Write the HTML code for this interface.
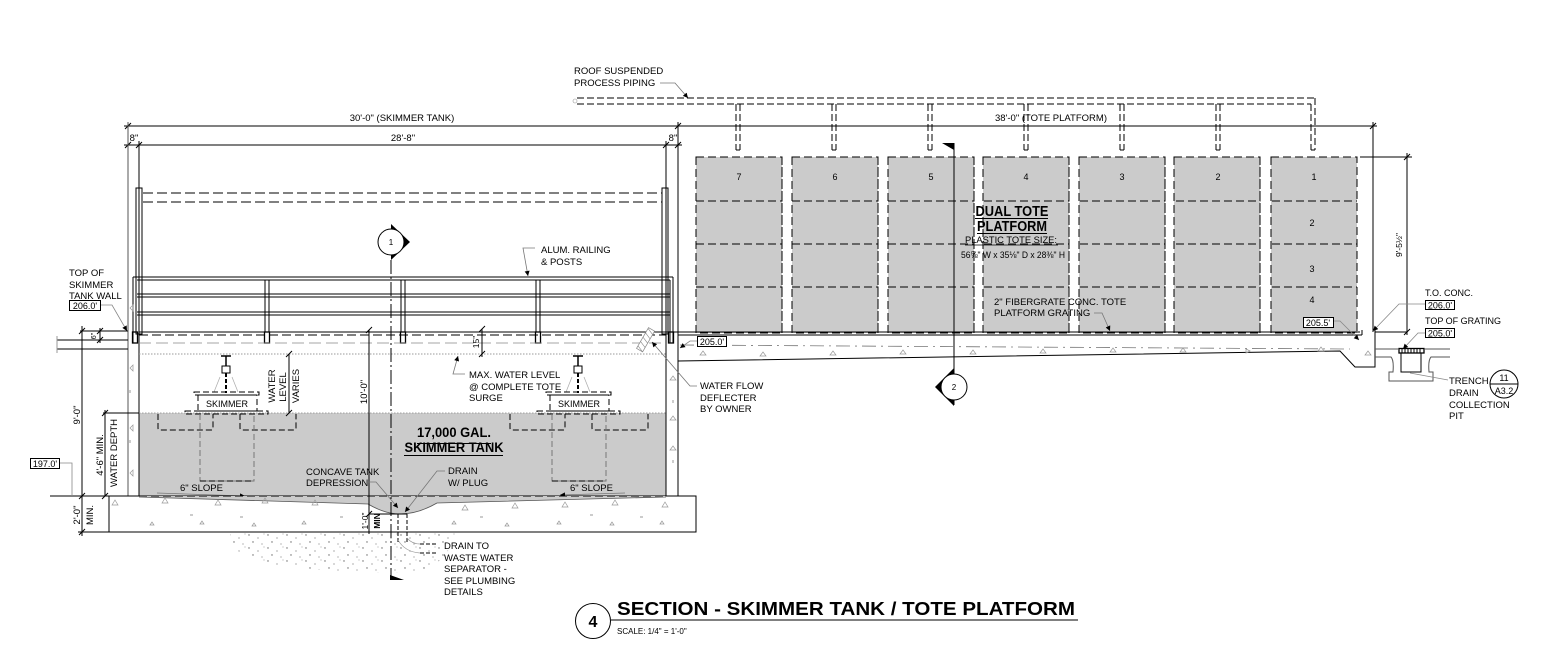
<!DOCTYPE html>
<html><head><meta charset="utf-8"><style>html,body{margin:0;padding:0;background:#fff;}svg{display:block}</style></head>
<body>
<svg width="1553" height="655" viewBox="0 0 1553 655" xmlns="http://www.w3.org/2000/svg" font-family="'Liberation Sans', Arial, sans-serif" font-size="9.5" fill="#000">
<defs>
<marker id="ar" viewBox="0 0 10 10" refX="10" refY="5" markerWidth="8" markerHeight="5" markerUnits="userSpaceOnUse" orient="auto"><path d="M0,0 L10,5 L0,10 z" fill="#000"/></marker>
<pattern id="stip" width="19" height="13" patternUnits="userSpaceOnUse">
<circle cx="2" cy="2" r="0.7" fill="#666"/><circle cx="11" cy="5" r="0.6" fill="#777"/><circle cx="6" cy="9" r="0.7" fill="#666"/><circle cx="15" cy="11" r="0.6" fill="#888"/><circle cx="17" cy="1" r="0.5" fill="#888"/>
</pattern>
</defs>

<!-- ROOF PIPING -->
<text x="574" y="74">ROOF SUSPENDED</text>
<text x="574" y="86">PROCESS PIPING</text>
<polyline points="660,83 675,83 688,98" fill="none" stroke="#777" stroke-width="0.8" marker-end="url(#ar)"/>
<circle cx="575" cy="101" r="2" fill="none" stroke="#999" stroke-width="0.6"/>
<g stroke="#000" stroke-width="1" stroke-dasharray="7,3" fill="none">
<line x1="577" y1="98" x2="1315" y2="98"/>
<line x1="577" y1="104" x2="1311" y2="104"/>
<line x1="1315" y1="98" x2="1315" y2="150"/>
<line x1="1311" y1="104" x2="1311" y2="150"/>
<line x1="736" y1="104" x2="736" y2="150"/><line x1="740" y1="104" x2="740" y2="150"/>
<line x1="832" y1="104" x2="832" y2="150"/><line x1="836" y1="104" x2="836" y2="150"/>
<line x1="928" y1="104" x2="928" y2="150"/><line x1="932" y1="104" x2="932" y2="150"/>
<line x1="1024" y1="104" x2="1024" y2="150"/><line x1="1028" y1="104" x2="1028" y2="150"/>
<line x1="1120" y1="104" x2="1120" y2="150"/><line x1="1124" y1="104" x2="1124" y2="150"/>
<line x1="1216" y1="104" x2="1216" y2="150"/><line x1="1220" y1="104" x2="1220" y2="150"/>
</g>
<g stroke="#000" stroke-width="1">
<line x1="736" y1="150" x2="740" y2="150"/><line x1="832" y1="150" x2="836" y2="150"/><line x1="928" y1="150" x2="932" y2="150"/><line x1="1024" y1="150" x2="1028" y2="150"/><line x1="1120" y1="150" x2="1124" y2="150"/><line x1="1216" y1="150" x2="1220" y2="150"/><line x1="1311" y1="150" x2="1315" y2="150"/>
</g>

<!-- TOP DIMENSIONS -->
<g stroke="#000" stroke-width="1">
<line x1="124" y1="126" x2="1377" y2="126"/>
<line x1="124" y1="145" x2="682" y2="145"/>
<line x1="125" y1="129" x2="131" y2="123"/><line x1="675" y1="129" x2="681" y2="123"/><line x1="1370" y1="129" x2="1376" y2="123"/>
<line x1="125" y1="148" x2="131" y2="142"/><line x1="136" y1="148" x2="142" y2="142"/><line x1="663" y1="148" x2="669" y2="142"/><line x1="675" y1="148" x2="681" y2="142"/>
</g>
<text x="402" y="121" text-anchor="middle">30'-0" (SKIMMER TANK)</text>
<text x="1051" y="121" text-anchor="middle">38'-0" (TOTE PLATFORM)</text>
<text x="403" y="141" text-anchor="middle">28'-8"</text>
<text x="134" y="141" text-anchor="middle">8"</text>
<text x="673" y="141" text-anchor="middle">8"</text>

<!-- TOTES -->
<g fill="#cbcbcb" stroke="#000" stroke-width="1" stroke-dasharray="8,4">
<rect x="696" y="157" width="86" height="176"/>
<rect x="792" y="157" width="86" height="176"/>
<rect x="888" y="157" width="86" height="176"/>
<rect x="983" y="157" width="86" height="176"/>
<rect x="1079" y="157" width="86" height="176"/>
<rect x="1174" y="157" width="86" height="176"/>
<rect x="1271" y="157" width="86" height="176"/>
</g>
<g stroke="#000" stroke-width="1" stroke-dasharray="8,4">
<line x1="696" y1="201" x2="1357" y2="201"/>
<line x1="696" y1="244" x2="1357" y2="244"/>
<line x1="696" y1="287" x2="1357" y2="287"/>
</g>
<rect x="782.5" y="150" width="9" height="185" fill="#fff"/>
<rect x="878.5" y="150" width="9" height="185" fill="#fff"/>
<rect x="974.5" y="150" width="8" height="185" fill="#fff"/>
<rect x="1069.5" y="150" width="9" height="185" fill="#fff"/>
<rect x="1165.5" y="150" width="8" height="185" fill="#fff"/>
<rect x="1260.5" y="150" width="10" height="185" fill="#fff"/>
<g stroke="#000" stroke-width="1" stroke-dasharray="8,4">
<line x1="782" y1="157" x2="782" y2="333"/><line x1="792" y1="157" x2="792" y2="333"/>
<line x1="878" y1="157" x2="878" y2="333"/><line x1="888" y1="157" x2="888" y2="333"/>
<line x1="974" y1="157" x2="974" y2="333"/><line x1="983" y1="157" x2="983" y2="333"/>
<line x1="1069" y1="157" x2="1069" y2="333"/><line x1="1079" y1="157" x2="1079" y2="333"/>
<line x1="1165" y1="157" x2="1165" y2="333"/><line x1="1174" y1="157" x2="1174" y2="333"/>
<line x1="1260" y1="157" x2="1260" y2="333"/><line x1="1271" y1="157" x2="1271" y2="333"/>
</g>
<g text-anchor="middle" font-size="9">
<text x="739" y="180">7</text><text x="835" y="180">6</text><text x="931" y="180">5</text><text x="1026" y="180">4</text><text x="1122" y="180">3</text><text x="1218" y="180">2</text><text x="1314" y="180">1</text>
<text x="1312" y="226">2</text><text x="1312" y="272">3</text><text x="1312" y="303">4</text>
</g>

<!-- DUAL TOTE text -->
<text x="1012" y="216" text-anchor="middle" font-weight="bold" font-size="14.5" textLength="73" lengthAdjust="spacingAndGlyphs">DUAL TOTE</text>
<line x1="975" y1="218.5" x2="1048" y2="218.5" stroke="#000"/>
<text x="1012" y="231" text-anchor="middle" font-weight="bold" font-size="14.5" textLength="70" lengthAdjust="spacingAndGlyphs">PLATFORM</text>
<line x1="977" y1="233.5" x2="1047" y2="233.5" stroke="#000"/>
<text x="1011" y="243" text-anchor="middle" font-size="9" textLength="92" lengthAdjust="spacingAndGlyphs">PLASTIC TOTE SIZE:</text>
<line x1="965" y1="245" x2="1058" y2="245" stroke="#000" stroke-width="0.8"/>
<text x="1013" y="258" text-anchor="middle" font-size="9" textLength="104" lengthAdjust="spacingAndGlyphs">56⅝" W x 35⅛" D x 28⅜" H</text>
<text x="994" y="305" font-size="9.5">2" FIBERGRATE CONC. TOTE</text>
<text x="994" y="316" font-size="9.5">PLATFORM GRATING</text>
<polyline points="1094,313 1102,313 1110,331" fill="none" stroke="#777" stroke-width="0.8" marker-end="url(#ar)"/>

<!-- SECTION 2 -->
<line x1="954" y1="143" x2="954" y2="405" stroke="#000" stroke-width="1"/>
<polygon points="942,143 954,143 954,150" fill="#000"/>
<polygon points="954,368 935,387 954,406" fill="#000"/>
<circle cx="954" cy="387" r="13" fill="#fff" stroke="#000" stroke-width="1"/>
<text x="954" y="390" text-anchor="middle" font-size="8">2</text>

<!-- SKIMMER TANK WALL LINES / POSTS -->
<g stroke="#000" stroke-width="1" fill="none">
<line x1="128" y1="122" x2="128" y2="496" stroke="#555"/>
<line x1="139" y1="141" x2="139" y2="496"/>
<line x1="666" y1="141" x2="666" y2="496"/>
<line x1="678" y1="122" x2="678" y2="496"/>
<rect x="136" y="188" width="6" height="146"/>
<rect x="662" y="188" width="6" height="146"/>
</g>
<g stroke="#000" stroke-width="1" stroke-dasharray="10,4">
<line x1="143" y1="193" x2="662" y2="193"/>
<line x1="143" y1="202" x2="662" y2="202"/>
</g>

<!-- RAILING -->
<g stroke="#000" stroke-width="1" fill="none">
<line x1="133" y1="277" x2="673" y2="277"/>
<line x1="137" y1="280" x2="670" y2="280"/>
<line x1="137" y1="294" x2="670" y2="294"/>
<line x1="137" y1="297" x2="670" y2="297"/>
<line x1="137" y1="312" x2="670" y2="312"/>
<line x1="137" y1="315" x2="670" y2="315"/>
<line x1="133" y1="277" x2="133" y2="343"/>
<line x1="673" y1="277" x2="673" y2="343"/>
<line x1="670" y1="280" x2="670" y2="343"/>
<line x1="265" y1="280" x2="265" y2="332"/><line x1="269" y1="280" x2="269" y2="332"/>
<line x1="401" y1="280" x2="401" y2="332"/><line x1="405" y1="280" x2="405" y2="332"/>
<line x1="536" y1="280" x2="536" y2="332"/><line x1="540" y1="280" x2="540" y2="332"/>
<rect x="264.5" y="332" width="5" height="11" stroke-width="1.3"/>
<rect x="400.5" y="332" width="5" height="11" stroke-width="1.3"/>
<rect x="535.5" y="332" width="5" height="11" stroke-width="1.3"/>
<rect x="132.5" y="332" width="5" height="11" stroke-width="1.3"/>
<rect x="668.5" y="332" width="5" height="11" stroke-width="1.3"/>
</g>
<text x="541" y="253">ALUM. RAILING</text>
<text x="541" y="265">&amp; POSTS</text>
<polyline points="535,248 523,248 528,276" fill="none" stroke="#777" stroke-width="0.8" marker-end="url(#ar)"/>

<!-- deck lines -->
<line x1="139" y1="332" x2="1360" y2="332" stroke="#000" stroke-width="1"/>
<line x1="139" y1="335" x2="666" y2="335" stroke="#000" stroke-width="1" stroke-dasharray="9,4"/>
<line x1="139" y1="343" x2="666" y2="343" stroke="#888" stroke-width="0.8" stroke-dasharray="12,5"/>
<line x1="139" y1="354" x2="666" y2="354" stroke="#999" stroke-width="1" stroke-dasharray="1.5,1.5"/>

<!-- WATER -->
<rect x="139.5" y="413" width="526" height="83" fill="#cbcbcb"/>
<line x1="103" y1="413" x2="139" y2="413" stroke="#000"/>
<line x1="139" y1="413" x2="666" y2="413" stroke="#888" stroke-width="0.8" stroke-dasharray="1.5,1.5"/>
<line x1="139" y1="496" x2="666" y2="496" stroke="#000" stroke-dasharray="8,4"/>

<!-- SKIMMERS -->
<g id="sk" fill="none" stroke="#000" stroke-width="1">
<line x1="221" y1="356" x2="231" y2="356" stroke-width="1.5"/>
<line x1="226" y1="356" x2="226" y2="366" stroke-width="1.5"/>
<rect x="222" y="366" width="8" height="7" stroke-width="1"/>
<line x1="226" y1="373" x2="226" y2="393" stroke-width="2" stroke-dasharray="4,2"/>
<line x1="220" y1="377" x2="214" y2="392" stroke="#aaa" stroke-width="0.7"/>
<line x1="232" y1="377" x2="238" y2="392" stroke="#aaa" stroke-width="0.7"/>
<rect x="194" y="392" width="65" height="3" stroke-dasharray="6,3"/>
<rect x="198" y="395" width="59" height="16" stroke-dasharray="6,3"/>
<rect x="185" y="411" width="83" height="3" stroke-dasharray="6,3"/>
<path d="M158,414 V428 Q158,430 160,430 H211 Q213,430 213,428 V414" stroke-dasharray="6,3"/>
<path d="M240,414 V428 Q240,430 242,430 H294 Q296,430 296,428 V414" stroke-dasharray="6,3"/>
<path d="M200,414 V481 H254 V414" stroke="#777" stroke-dasharray="6,3"/>
<path d="M200,481 H254" stroke-dasharray="6,3"/>
</g>
<text x="227" y="407" text-anchor="middle" font-size="9">SKIMMER</text>
<use href="#sk" transform="translate(352,0)"/>
<text x="579" y="407" text-anchor="middle" font-size="9">SKIMMER</text>

<!-- WATER LEVEL VARIES -->
<line x1="289" y1="354" x2="289" y2="413" stroke="#000"/>
<line x1="286" y1="357" x2="292" y2="351" stroke="#000"/><line x1="286" y1="416" x2="292" y2="410" stroke="#000"/>
<text transform="translate(275,386) rotate(-90)" text-anchor="middle" font-size="9.5">WATER</text>
<text transform="translate(286,387) rotate(-90)" text-anchor="middle" font-size="9.5">LEVEL</text>
<text transform="translate(299,386) rotate(-90)" text-anchor="middle" font-size="9.5">VARIES</text>

<!-- 15" -->
<line x1="482" y1="329" x2="482" y2="357" stroke="#000"/>
<line x1="479" y1="332" x2="485" y2="326" stroke="#000"/><line x1="479" y1="357" x2="485" y2="351" stroke="#000"/>
<text transform="translate(479,342) rotate(-90)" text-anchor="middle" font-size="8.5">15"</text>

<text x="469" y="378">MAX. WATER LEVEL</text>
<text x="469" y="390">@ COMPLETE TOTE</text>
<text x="469" y="401">SURGE</text>
<polyline points="465,374 453,374 458,356" fill="none" stroke="#777" stroke-width="0.8" marker-end="url(#ar)"/>

<!-- 17,000 GAL -->
<text x="454" y="437" text-anchor="middle" font-weight="bold" font-size="14" textLength="74" lengthAdjust="spacingAndGlyphs">17,000 GAL.</text>
<line x1="417" y1="443.5" x2="491" y2="443.5" stroke="#000"/>
<text x="454" y="452" text-anchor="middle" font-weight="bold" font-size="14" textLength="99" lengthAdjust="spacingAndGlyphs">SKIMMER TANK</text>
<line x1="404" y1="455.5" x2="503" y2="455.5" stroke="#000"/>

<!-- 6" SLOPE -->
<text x="180" y="491" font-size="9.5">6" SLOPE</text>
<line x1="157" y1="493" x2="245" y2="496" stroke="#777" stroke-width="0.8" marker-end="url(#ar)"/>
<text x="570" y="491" font-size="9.5">6" SLOPE</text>
<line x1="625" y1="493" x2="560" y2="495" stroke="#777" stroke-width="0.8" marker-end="url(#ar)"/>

<!-- SLAB -->
<rect x="109" y="496" width="587" height="36" fill="none" stroke="#000" stroke-width="1"/>
<line x1="50" y1="496" x2="139" y2="496" stroke="#000"/>
<line x1="666" y1="496" x2="696" y2="496" stroke="#000"/>
<line x1="78" y1="532" x2="109" y2="532" stroke="#000"/>
<path d="M139,497 L368,504 Q385,514 400,514 Q418,514 437,503 L666,497" fill="#cbcbcb" stroke="#555" stroke-width="0.8"/>
<rect x="139.5" y="496" width="526" height="1" fill="#cbcbcb"/>
<line x1="139" y1="496" x2="666" y2="496" stroke="#000" stroke-dasharray="8,4"/>
<g fill="none" stroke="#999" stroke-width="0.7">
<path d="M112,505 l3,-5 l3,5z"/><path d="M162,503 l3,-5 l3,5z"/><path d="M215,505 l3,-5 l3,5z"/><path d="M262,503 l3,-5 l3,5z"/><path d="M312,505 l3,-5 l3,5z"/><path d="M462,510 l3,-5 l3,5z"/><path d="M512,508 l3,-5 l3,5z"/><path d="M562,507 l3,-5 l3,5z"/><path d="M612,505 l3,-5 l3,5z"/><path d="M662,507 l3,-5 l3,5z"/>
<path d="M150,525 l2,-3 l2,3z"/><path d="M200,524 l2,-3 l2,3z"/><path d="M252,526 l2,-3 l2,3z"/><path d="M302,524 l2,-3 l2,3z"/><path d="M452,524 l2,-3 l2,3z"/><path d="M505,526 l2,-3 l2,3z"/><path d="M557,524 l2,-3 l2,3z"/><path d="M610,525 l2,-3 l2,3z"/><path d="M660,524 l2,-3 l2,3z"/>
<path d="M133,305 l-3,3 l3,3z"/><path d="M133,365 l-3,3 l3,3z"/><path d="M133,425 l-3,3 l3,3z"/><path d="M133,470 l-3,3 l3,3z"/>
<path d="M670,380 l3,-4 l3,4z"/><path d="M670,450 l3,-4 l3,4z"/><path d="M670,420 l3,-4 l3,4z"/>
</g>
<g stroke="#555" stroke-width="0.6">
<line x1="130" y1="390" x2="130" y2="393"/><line x1="130" y1="440" x2="130" y2="443"/><line x1="673" y1="400" x2="673" y2="403"/><line x1="673" y1="460" x2="673" y2="463"/>
<line x1="190" y1="515" x2="193" y2="515"/><line x1="240" y1="517" x2="243" y2="517"/><line x1="340" y1="517" x2="343" y2="517"/><line x1="480" y1="517" x2="483" y2="517"/><line x1="590" y1="515" x2="593" y2="515"/><line x1="640" y1="517" x2="643" y2="517"/>
</g>

<!-- SOIL STIPPLE -->
<path d="M230,533 H455 Q450,560 420,572 Q330,576 250,560 Q232,550 230,533 Z" fill="url(#stip)"/>

<!-- depression / drain -->
<line x1="369" y1="514" x2="407" y2="514" stroke="#000"/>
<line x1="369" y1="330" x2="369" y2="534" stroke="#000"/>
<line x1="366" y1="333" x2="372" y2="327" stroke="#000"/><line x1="366" y1="517" x2="372" y2="511" stroke="#000"/>
<text transform="translate(367,392) rotate(-90)" text-anchor="middle" font-size="9.5">10'-0"</text>
<text transform="translate(368,521) rotate(-90)" text-anchor="middle" font-size="8.5">1'-0"</text>
<text transform="translate(380,521) rotate(-90)" text-anchor="middle" font-size="8.5" font-weight="bold">MIN</text>
<g stroke="#000" stroke-width="1" stroke-dasharray="4,2">
<line x1="398" y1="514" x2="398" y2="542"/>
<line x1="407" y1="514" x2="407" y2="542"/>
</g>
<path d="M398,540 Q405,552 420,553" fill="none" stroke="#999" stroke-width="0.7"/>
<path d="M407,538 Q412,544 420,544" fill="none" stroke="#999" stroke-width="0.7"/>
<line x1="420" y1="544" x2="437" y2="544" stroke="#000" stroke-dasharray="4,2"/>
<line x1="420" y1="553" x2="437" y2="553" stroke="#000" stroke-dasharray="4,2"/>
<text x="444" y="549">DRAIN TO</text>
<text x="444" y="561">WASTE WATER</text>
<text x="444" y="572">SEPARATOR -</text>
<text x="444" y="584">SEE PLUMBING</text>
<text x="444" y="595">DETAILS</text>

<text x="306" y="475">CONCAVE TANK</text>
<text x="306" y="486">DEPRESSION</text>
<polyline points="368,482 376,482 398,508" fill="none" stroke="#777" stroke-width="0.8" marker-end="url(#ar)"/>
<text x="448" y="474">DRAIN</text>
<text x="448" y="486">W/ PLUG</text>
<polyline points="445,471 437,471 405,512" fill="none" stroke="#777" stroke-width="0.8" marker-end="url(#ar)"/>

<!-- SECTION 1 -->
<line x1="391" y1="260" x2="391" y2="579" stroke="#000" stroke-width="1" stroke-dasharray="14,3,2,3"/>
<polygon points="391,224 410,242 391,260" fill="#000"/>
<circle cx="391" cy="242" r="13" fill="#fff" stroke="#000" stroke-width="1"/>
<text x="391" y="245" text-anchor="middle" font-size="8">1</text>
<polygon points="390,575 404,580 390,580" fill="#000"/>

<!-- LEFT SIDE -->
<text x="69" y="276">TOP OF</text>
<text x="69" y="288">SKIMMER</text>
<text x="69" y="299">TANK WALL</text>
<rect x="69.5" y="300.5" width="31" height="10" fill="#fff" stroke="#000"/>
<text x="85" y="309" text-anchor="middle" font-size="9">206.0'</text>
<polyline points="101,305 112,305 127,331" fill="none" stroke="#888" stroke-width="0.8" marker-end="url(#ar)"/>
<g stroke="#000" stroke-width="1" fill="none">
<line x1="80" y1="331" x2="128" y2="331"/>
<line x1="57" y1="340" x2="128" y2="340"/>
<line x1="57" y1="349" x2="128" y2="349"/>
<line x1="57" y1="336" x2="57" y2="353" stroke="#999"/>
<line x1="82" y1="326" x2="82" y2="536"/>
<line x1="79" y1="334" x2="85" y2="328"/><line x1="79" y1="499" x2="85" y2="493"/><line x1="79" y1="535" x2="85" y2="529"/>
<line x1="100" y1="328" x2="100" y2="343"/>
<line x1="97" y1="334" x2="103" y2="328"/><line x1="97" y1="343" x2="103" y2="337"/>
<line x1="105" y1="410" x2="105" y2="496"/>
<line x1="102" y1="416" x2="108" y2="410"/><line x1="102" y1="499" x2="108" y2="493"/>
</g>
<text transform="translate(96,336) rotate(-90)" text-anchor="middle" font-size="7">6"</text>
<text transform="translate(80,415) rotate(-90)" text-anchor="middle" font-size="9.5">9'-0"</text>
<text transform="translate(103,455) rotate(-90)" text-anchor="middle" font-size="9.5">4'-6" MIN.</text>
<text transform="translate(117,453) rotate(-90)" text-anchor="middle" font-size="9.5">WATER DEPTH</text>
<text transform="translate(80,515) rotate(-90)" text-anchor="middle" font-size="9.5">2'-0"</text>
<text transform="translate(93,515) rotate(-90)" text-anchor="middle" font-size="9.5">MIN.</text>
<rect x="30.5" y="458.5" width="29" height="10" fill="#fff" stroke="#000"/>
<text x="45" y="467" text-anchor="middle" font-size="9">197.0'</text>
<polyline points="60,463 72,463 72,496" fill="none" stroke="#888" stroke-width="0.8"/>

<!-- TOTE PLATFORM SLAB -->
<g stroke="#000" stroke-width="1" fill="none">
<line x1="678" y1="335" x2="1362" y2="335"/>
<line x1="1362" y1="330" x2="1362" y2="335"/>
<path d="M678,361 L1340,351 L1355,367 L1375,367 L1375,330"/>
<line x1="1375" y1="332" x2="1407" y2="332"/>
<line x1="1407" y1="153" x2="1407" y2="335"/>
<line x1="1360" y1="157" x2="1412" y2="157"/>
<line x1="1404" y1="160" x2="1410" y2="154"/><line x1="1404" y1="335" x2="1410" y2="329"/>
<line x1="1373" y1="122" x2="1373" y2="332"/>
</g>
<line x1="680" y1="345" x2="1350" y2="349" stroke="#777" stroke-width="0.8" stroke-dasharray="14,5,2,5"/>
<g fill="none" stroke="#999" stroke-width="0.7">
<path d="M700,355 l3,-4 l3,4z"/><path d="M760,356 l3,-4 l3,4z"/><path d="M830,355 l3,-4 l3,4z"/><path d="M900,354 l3,-4 l3,4z"/><path d="M970,354 l3,-4 l3,4z"/><path d="M1040,353 l3,-4 l3,4z"/><path d="M1110,352 l3,-4 l3,4z"/><path d="M1180,352 l3,-4 l3,4z"/><path d="M1250,351 l-4,-2 l0,4z"/><path d="M1318,351 l3,-4 l3,4z"/><path d="M1365,355 l3,-4 l3,4z"/>
</g>
<text transform="translate(1402,245) rotate(-90)" text-anchor="middle" font-size="8.5">9'-5½"</text>

<!-- 205.0 box near deck -->
<rect x="697.5" y="336.5" width="29" height="10" fill="#fff" stroke="#000"/>
<text x="712" y="345" text-anchor="middle" font-size="9">205.0'</text>
<polyline points="697,341 690,341 680,348" fill="none" stroke="#888" stroke-width="0.8" marker-end="url(#ar)"/>

<!-- water flow deflector -->
<g transform="translate(646,340) rotate(-60)">
<rect x="-12" y="-4" width="24" height="7" fill="#fff" stroke="#888" stroke-width="0.7"/>
<line x1="-9" y1="-4" x2="-12" y2="3" stroke="#888" stroke-width="0.6"/><line x1="-4" y1="-4" x2="-7" y2="3" stroke="#888" stroke-width="0.6"/><line x1="1" y1="-4" x2="-2" y2="3" stroke="#888" stroke-width="0.6"/><line x1="6" y1="-4" x2="3" y2="3" stroke="#888" stroke-width="0.6"/><line x1="11" y1="-4" x2="8" y2="3" stroke="#888" stroke-width="0.6"/>
</g>
<text x="700" y="389">WATER FLOW</text>
<text x="700" y="401">DEFLECTER</text>
<text x="700" y="412">BY OWNER</text>
<polyline points="697,386 690,386 652,342" fill="none" stroke="#777" stroke-width="0.8" marker-end="url(#ar)"/>

<!-- RIGHT DETAILS -->
<rect x="1303.5" y="317.5" width="30" height="10" fill="#fff" stroke="#000"/>
<text x="1318" y="326" text-anchor="middle" font-size="9">205.5'</text>
<polyline points="1334,321 1340,321 1359,340" fill="none" stroke="#888" stroke-width="0.8" marker-end="url(#ar)"/>
<text x="1425" y="296" font-size="9">T.O. CONC.</text>
<rect x="1425.5" y="300.5" width="29" height="9" fill="#fff" stroke="#000"/>
<text x="1440" y="308.5" text-anchor="middle" font-size="9">206.0'</text>
<polyline points="1425,304 1399,304 1373,331" fill="none" stroke="#888" stroke-width="0.8" marker-end="url(#ar)"/>
<text x="1425" y="324" font-size="9">TOP OF GRATING</text>
<rect x="1425.5" y="328.5" width="29" height="9" fill="#fff" stroke="#000"/>
<text x="1440" y="336.5" text-anchor="middle" font-size="9">205.0'</text>
<polyline points="1425,333 1418,333 1403,349" fill="none" stroke="#888" stroke-width="0.8" marker-end="url(#ar)"/>
<g stroke="#000" stroke-width="1" fill="none">
<rect x="1399" y="348.5" width="25" height="4.5" stroke-width="1.3"/>
<line x1="1402" y1="349" x2="1402" y2="353"/><line x1="1405" y1="349" x2="1405" y2="353"/><line x1="1408" y1="349" x2="1408" y2="353"/><line x1="1411" y1="349" x2="1411" y2="353"/><line x1="1414" y1="349" x2="1414" y2="353"/><line x1="1417" y1="349" x2="1417" y2="353"/><line x1="1420" y1="349" x2="1420" y2="353"/>
<path d="M1401,353 V372 H1421 V353"/>
<path d="M1375,349 H1399 M1424,349 H1450" stroke="#555"/>
<path d="M1375,357 H1391 Q1394,360 1393,372 H1389 V381 H1433 V372 H1429 Q1428,360 1431,357 H1450" stroke="#555"/>
</g>
<line x1="1410" y1="373" x2="1448" y2="380" stroke="#888" stroke-width="0.7"/>
<text x="1449" y="384" font-size="9.5">TRENCH</text>
<text x="1449" y="396" font-size="9.5">DRAIN</text>
<text x="1449" y="408" font-size="9.5">COLLECTION</text>
<text x="1449" y="419" font-size="9.5">PIT</text>
<circle cx="1504" cy="384" r="14" fill="#fff" stroke="#000"/>
<line x1="1490" y1="384" x2="1518" y2="384" stroke="#000"/>
<text x="1504" y="381" text-anchor="middle" font-size="9">11</text>
<text x="1504" y="394" text-anchor="middle" font-size="9">A3.2</text>

<!-- TITLE -->
<circle cx="593" cy="621" r="17.5" fill="#fff" stroke="#000" stroke-width="1"/>
<text x="593" y="627" text-anchor="middle" font-size="16" font-weight="bold">4</text>
<text x="617" y="615" font-size="18" font-weight="bold" textLength="458" lengthAdjust="spacingAndGlyphs">SECTION - SKIMMER TANK / TOTE PLATFORM</text>
<line x1="611" y1="620" x2="1078" y2="620" stroke="#000" stroke-width="1"/>
<text x="617" y="634" font-size="8">SCALE: 1/4" = 1'-0"</text>
</svg>
</body></html>
